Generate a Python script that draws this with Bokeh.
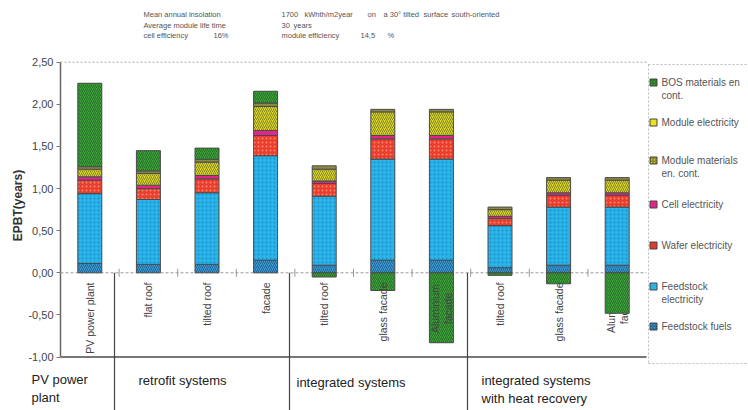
import math
import numpy as np
from bokeh.plotting import figure
from bokeh.models import Range1d, FixedTicker
from bokeh.core.properties import value
from bokeh.embed import file_html
from bokeh.resources import INLINE

# ---------------- data ----------------
categories = ["PV power plant", "flat roof", "tilted roof", "facade",
              "tilted roof", "glass facade", "Aluminium\nfacade",
              "tilted roof", "glass facade", "Aluminium\nfacade"]

group_names = ["PV power\nplant", "retrofit systems", "integrated systems",
               "integrated systems\nwith heat recovery"]

# stacked from the bottom up (years)
feedstock_fuels       = [0.11, 0.10, 0.10, 0.15, 0.09, 0.15, 0.15, 0.06, 0.09, 0.09]
feedstock_electricity = [0.83, 0.77, 0.85, 1.24, 0.82, 1.20, 1.20, 0.50, 0.69, 0.69]
wafer_electricity     = [0.16, 0.13, 0.165, 0.24, 0.15, 0.24, 0.24, 0.085, 0.14, 0.14]
cell_electricity      = [0.04, 0.04, 0.04, 0.06, 0.03, 0.04, 0.04, 0.025, 0.03, 0.03]
module_materials      = [0.09, 0.14, 0.16, 0.285, 0.14, 0.28, 0.28, 0.08, 0.15, 0.15]
module_electricity    = [0.03, 0.03, 0.03, 0.04, 0.04, 0.03, 0.03, 0.03, 0.03, 0.03]
bos_materials         = [0.99, 0.24, 0.135, 0.14, -0.05, -0.21, -0.83, -0.03, -0.13, -0.48]

series_values = [feedstock_fuels, feedstock_electricity, wafer_electricity,
                 cell_electricity, module_materials, module_electricity, bos_materials]

legend_labels = ["BOS  materials en\ncont.", "Module  electricity",
                 "Module materials\nen. cont.", "Cell electricity",
                 "Wafer electricity", "Feedstock\nelectricity", "Feedstock   fuels"]

y_ticks = [-1.0, -0.5, 0.0, 0.5, 1.0, 1.5, 2.0, 2.5]
y_tick_labels = ["-1,00", "-0,50", "0,00", "0,50", "1,00", "1,50", "2,00", "2,50"]

header_texts = ["Mean annual insolation", "1700", "kWhth/m2year", "on", "a 30° tilted",
                "surface", "south-oriented",
                "Average module life time", "30", "years",
                "cell efficiency", "16%", "module efficiency", "14,5", "%"]

# ---------------- styles / layout ----------------
bar_styles = [
    dict(fill_color="#3b9bd3", hatch_pattern="/", hatch_color="#1d5a8c"),
    dict(fill_color="#2ab5ea", hatch_pattern=".", hatch_color="#1a86c0"),
    dict(fill_color="#ea3e2c", hatch_pattern=".", hatch_color="#ff8f80"),
    dict(fill_color="#e2248d"),
    dict(fill_color="#d9d52b", hatch_pattern="/", hatch_color="#7a7a1c"),
    dict(fill_color="#8c8a44"),
    dict(fill_color="#40a03c", hatch_pattern="/", hatch_color="#1d6a20"),
]
legend_styles = [
    dict(fill_color="#40a03c", hatch_pattern="/", hatch_color="#1d6a20"),
    dict(fill_color="#ede21e"),
    dict(fill_color="#c9c632", hatch_pattern="/", hatch_color="#6d6d18"),
    dict(fill_color="#e2248d"),
    dict(fill_color="#e03a2e"),
    dict(fill_color="#2ab5ea"),
    dict(fill_color="#3b9bd3", hatch_pattern="/", hatch_color="#1d5a8c"),
]
legend_rows_y = [82, 122, 160, 204, 245, 286, 326]   # px of first line
header_pos = [(143, 14), (281, 14), (304, 14), (367, 14), (383, 14),
              (423, 14), (451, 14),
              (143, 25), (281, 25), (293, 25),
              (143, 35), (213, 35), (281, 35), (360, 35), (387, 35)]
group_pos = [(31, 379), (138, 380), (296, 382), (481, 380)]
separators_px = [114, 289, 467]

W, H = 748, 410
X_ORG, X_SCALE = 60.0, 58.6     # px of x=0, px per category
Y_ORG, Y_SCALE = 272.3, 84.24   # px of y=0, px per year
def dx(px): return (px - X_ORG) / X_SCALE
def dy(py): return (Y_ORG - py) / Y_SCALE

FONT = "Liberation Sans"
n = len(categories)
xs = np.arange(n) + 0.5

p = figure(width=W, height=H, output_backend="svg", toolbar_location=None,
           x_range=Range1d(dx(0), dx(W)), y_range=Range1d(dy(H), dy(0)),
           x_axis_location=None, min_border_left=0, min_border_right=0,
           min_border_top=0, min_border_bottom=0)
p.outline_line_color = None
p.grid.visible = False
p.background_fill_color = "white"
p.border_fill_color = "white"

ya = p.yaxis[0]
ya.fixed_location = 0
ya.ticker = FixedTicker(ticks=y_ticks)
ya.major_label_overrides = {t: l for t, l in zip(y_ticks, y_tick_labels)}
ya.axis_line_color = None
ya.major_tick_out = 4
ya.major_tick_in = 0
ya.major_tick_line_color = "#777"
ya.minor_tick_line_color = None
ya.major_label_standoff = 3
ya.major_label_text_font = FONT
ya.major_label_text_font_size = "11px"
ya.major_label_text_color = "#444"
ya.axis_label = "EPBT(years)"
ya.axis_label_text_font = FONT
ya.axis_label_text_font_size = "12px"
ya.axis_label_text_font_style = "bold"
ya.axis_label_text_color = "#333"
ya.axis_label_standoff = 0

# frame lines
p.segment(x0=[0], y0=[y_ticks[0]], x1=[0], y1=[y_ticks[-1]], line_color="#666", line_width=1.5)
p.segment(x0=[0], y0=[y_ticks[0]], x1=[n], y1=[y_ticks[0]], line_color="#777", line_width=2)
p.segment(x0=[0], y0=[y_ticks[-1]], x1=[n], y1=[y_ticks[-1]], line_color="#aaa",
          line_width=1, line_dash="2 2")
p.segment(x0=[0], y0=[0], x1=[n], y1=[0], line_color="#999", line_width=1, line_dash="3 2")
tx = np.arange(1, n)
p.segment(x0=tx, y0=[dy(Y_ORG - 4)] * len(tx), x1=tx, y1=[dy(Y_ORG + 4)] * len(tx),
          line_color="#999", line_width=1)

# legend box (dashed)
lx0, lx1, ly0, ly1 = dx(648), dx(W + 2), dy(64), dy(363)
p.segment(x0=[lx0, lx0, lx0], y0=[ly0, ly0, ly1], x1=[lx0, lx1, lx1], y1=[ly1, ly0, ly1],
          line_color="#bbb", line_width=1, line_dash="2 2")

# group separators
sx = [dx(v) for v in separators_px]
p.segment(x0=sx, y0=[0] * 3, x1=sx, y1=[dy(H)] * 3, line_color="#444", line_width=1.2)

# category labels (rotated)
def draw_cat_labels(idx):
    single = {"x": [], "y": [], "t": []}
    multi = {"x": [], "y": [], "t": []}
    for i in idx:
        lines = categories[i].split("\n")
        if len(lines) == 1:
            single["x"].append(xs[i]); single["y"].append(dy(282)); single["t"].append(lines[0])
        else:
            for k, ln in enumerate(lines):
                multi["x"].append(xs[i] + (k - 0.5) * 13 / X_SCALE)
                multi["y"].append(dy(308)); multi["t"].append(ln)
    for d, align in ((single, "right"), (multi, "center")):
        if not d["t"]:
            continue
        p.text(x=d["x"], y=d["y"], text=d["t"], angle=math.pi / 2, text_align=align,
               text_baseline="middle", text_font=value(FONT), text_font_size="10.5px",
               text_color="#444")

back_idx = [n - 1]
front_idx = [i for i in range(n) if i not in back_idx]
draw_cat_labels(back_idx)

# stacked bars
pos_base = np.zeros(n)
neg_base = np.zeros(n)
for vals, st in zip(series_values, bar_styles):
    v = np.array(vals, dtype=float)
    bottom = np.where(v >= 0, pos_base, neg_base + v)
    top = np.where(v >= 0, pos_base + v, neg_base)
    pos_base = pos_base + np.clip(v, 0, None)
    neg_base = neg_base + np.clip(v, None, 0)
    extra = {}
    if "hatch_pattern" in st:
        extra = dict(hatch_pattern=st["hatch_pattern"], hatch_color=st["hatch_color"],
                     hatch_scale=4, hatch_weight=1, hatch_alpha=0.85)
    p.vbar(x=xs, width=24 / X_SCALE, bottom=bottom, top=top, fill_color=st["fill_color"],
           line_color="#4a4a4a", line_width=1, **extra)

draw_cat_labels(front_idx)

# legend
for lab, st, ry in zip(legend_labels, legend_styles, legend_rows_y):
    extra = {}
    if "hatch_pattern" in st:
        extra = dict(hatch_pattern=st["hatch_pattern"], hatch_color=st["hatch_color"],
                     hatch_scale=3, hatch_weight=1)
    p.scatter(x=[dx(653)], y=[dy(ry)], marker="square", size=7, fill_color=st["fill_color"],
              line_color="#444", line_width=1, **extra)
    lines = lab.split("\n")
    p.text(x=[dx(661)] * len(lines), y=[dy(ry + 13 * k) for k in range(len(lines))], text=lines,
           text_align="left", text_baseline="middle", text_font=value(FONT),
           text_font_size="10px", text_color="#555")

# header
p.text(x=[dx(a) for a, b in header_pos], y=[dy(b) for a, b in header_pos], text=header_texts,
       text_align="left", text_baseline="middle", text_font=value(FONT),
       text_font_size="7.5px", text_color="#555")

# group labels below the plot
gx_, gy_, gt_ = [], [], []
for name, (gx, gy) in zip(group_names, group_pos):
    for k, ln in enumerate(name.split("\n")):
        gx_.append(dx(gx)); gy_.append(dy(gy + 18 * k)); gt_.append(ln)
p.text(x=gx_, y=gy_, text=gt_, text_align="left", text_baseline="middle",
       text_font=value(FONT), text_font_size="13px", text_color="#222")

open("out.html", "w").write(file_html(p, INLINE))
